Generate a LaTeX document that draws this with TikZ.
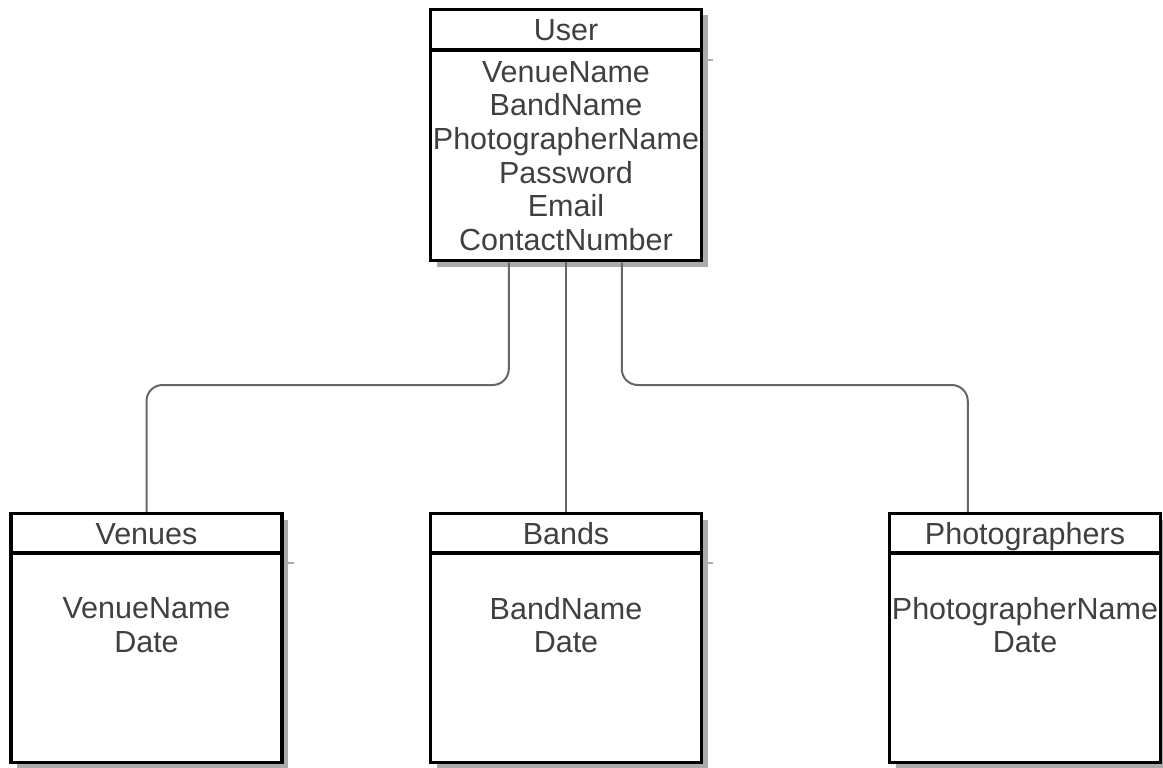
\documentclass[tikz,border=0pt]{standalone}
\usepackage{fontspec}
\setmainfont{Liberation Sans}
\usetikzlibrary{calc,shadows}
\definecolor{txt}{HTML}{404040}
\definecolor{conncol}{HTML}{666666}
\definecolor{shadowcol}{HTML}{ABABAB}
\tikzset{
  entbox/.style={draw=black, line width=3.5pt, fill=white, minimum width=271pt, inner sep=0pt,
    drop shadow={shadow xshift=6pt, shadow yshift=-6pt, fill=shadowcol, opacity=1}},
  divline/.style={draw=black, line width=3.5pt},
  divshadow/.style={draw=shadowcol, line width=1.5pt},
  conn/.style={draw=conncol, line width=2pt, rounded corners=16pt},
  lbl/.style={text=txt, font=\fontsize{30.5}{33.6}\selectfont, align=center, inner sep=0pt},
  ttl/.style={lbl, anchor=base},
}
\begin{document}
\begin{tikzpicture}[x=1pt,y=-1pt]
\useasboundingbox[fill=white] (0,0) rectangle (1163,768);

% boxes
\node[entbox, minimum height=251pt] (user) at (566,135) {};
\node[entbox, minimum height=249pt] (venues) at (146.5,638) {};
\node[entbox, minimum height=249pt] (bands) at (566,638) {};
\node[entbox, minimum height=249pt] (photog) at (1025,638) {};

% dividers
\foreach \b/\y in {user/50, venues/553, bands/553, photog/553}{
  \coordinate (\b-dl) at (\b.west |- 0,\y);
  \coordinate (\b-dr) at (\b.east |- 0,\y);
  \draw[divline] (\b-dl) -- (\b-dr);
  \draw[divshadow] ($(\b-dr)+(0,10)$) -- ($(\b-dr)+(10,10)$);
}

% titles
\node[ttl] (userT) at (566,41) {User};
\node[ttl] (venuesT) at (146.5,544) {Venues};
\node[ttl] (bandsT) at (566,544) {Bands};
\node[ttl] (photogT) at (1025,544) {Photographers};

% bodies
\node[lbl] (userB) at (566,156) {VenueName\\BandName\\PhotographerName\\Password\\Email\\ContactNumber};
\node[lbl] (venuesB) at (146.5,625) {VenueName\\Date};
\node[lbl] (bandsB) at (566,625) {BandName\\Date};
\node[lbl] (photogB) at (1025,625) {PhotographerName\\Date};

% connectors
\coordinate (u1) at ($(user.south west)+(80,0)$);
\coordinate (u3) at ($(user.south west)+(193,0)$);
\coordinate (p1) at ($(photog.north west)+(80,0)$);
\draw[conn] (u1) -- (u1 |- 0,385) -- (venues.north |- 0,385) -- (venues.north);
\draw[conn] (user.south) -- (bands.north);
\draw[conn] (u3) -- (u3 |- 0,385) -- (p1 |- 0,385) -- (p1);
\end{tikzpicture}
\end{document}
